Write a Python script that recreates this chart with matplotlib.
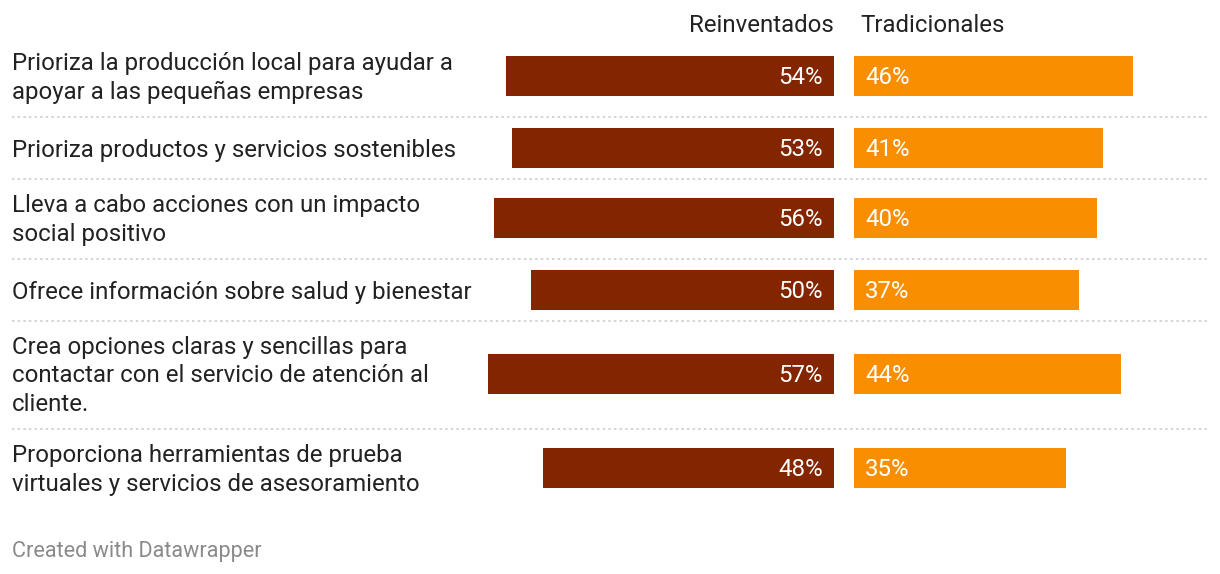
import matplotlib
matplotlib.use('Agg')
import matplotlib.pyplot as plt

# data
labels = [
    'Prioriza la producción local para ayudar a\napoyar a las pequeñas empresas',
    'Prioriza productos y servicios sostenibles',
    'Lleva a cabo acciones con un impacto\nsocial positivo',
    'Ofrece información sobre salud y bienestar',
    'Crea opciones claras y sencillas para\ncontactar con el servicio de atención al\ncliente.',
    'Proporciona herramientas de prueba\nvirtuales y servicios de asesoramiento',
]
reinventados = [54, 53, 56, 50, 57, 48]
tradicionales = [46, 41, 40, 37, 44, 35]
series_names = ['Reinventados', 'Tradicionales']

# layout (pixel rows of the 1220x574 canvas)
W, H = 1220, 574
row_y = [76, 148, 218, 290, 374, 468]
sep_y = [117, 179, 259, 321, 429]
bar_h = 40
px_per_pct = 6.07
span = 60
fs = 17.3
dy = 2  # text sits a touch lower than bbox centre

c_re = '#832600'
c_tr = '#f98e00'
txt = '#222222'
plt.rcParams['font.family'] = ['Roboto', 'DejaVu Sans']

fig = plt.figure(figsize=(W / 100, H / 100), dpi=100)

# background axes for text and separators
ax0 = fig.add_axes([0, 0, 1, 1])
ax0.set_xlim(0, W)
ax0.set_ylim(H, 0)
ax0.axis('off')

left_end = 834
right_start = 854
w_frac = span * px_per_pct / W
ax1 = fig.add_axes([(left_end - span * px_per_pct) / W, 0, w_frac, 1])
ax2 = fig.add_axes([right_start / W, 0, w_frac, 1])
ax1.set_xlim(span, 0)
ax2.set_xlim(0, span)
for ax in (ax1, ax2):
    ax.set_ylim(H, 0)
    ax.axis('off')
    ax.patch.set_alpha(0)

ax1.barh(row_y, reinventados, height=bar_h, color=c_re)
ax2.barh(row_y, tradicionales, height=bar_h, color=c_tr)

for y, v in zip(row_y, reinventados):
    ax1.annotate(f'{v}%', (0, y), xytext=(-11, -dy), textcoords='offset pixels',
                 ha='right', va='center', color='white', fontsize=fs)
for y, v in zip(row_y, tradicionales):
    ax2.annotate(f'{v}%', (0, y), xytext=(11, -dy), textcoords='offset pixels',
                 ha='left', va='center', color='white', fontsize=fs)

for y, lab in zip(row_y, labels):
    ax0.text(12, y + dy, lab, ha='left', va='center', fontsize=fs, color=txt, linespacing=1.29)

for y in sep_y:
    ax0.plot([12, 1208], [y, y], color='#d6d6d6', lw=1.5, linestyle=(0, (1.2, 1.5)))

ax0.text(left_end, 24 + dy, series_names[0], ha='right', va='center', fontsize=fs, color=txt)
ax0.text(860, 24 + dy, series_names[1], ha='left', va='center', fontsize=fs, color=txt)

ax0.text(12, 550 + dy, 'Created with Datawrapper', ha='left', va='center', fontsize=15.6, color='#8a8a8a')

fig.savefig('out.png', dpi=100)
